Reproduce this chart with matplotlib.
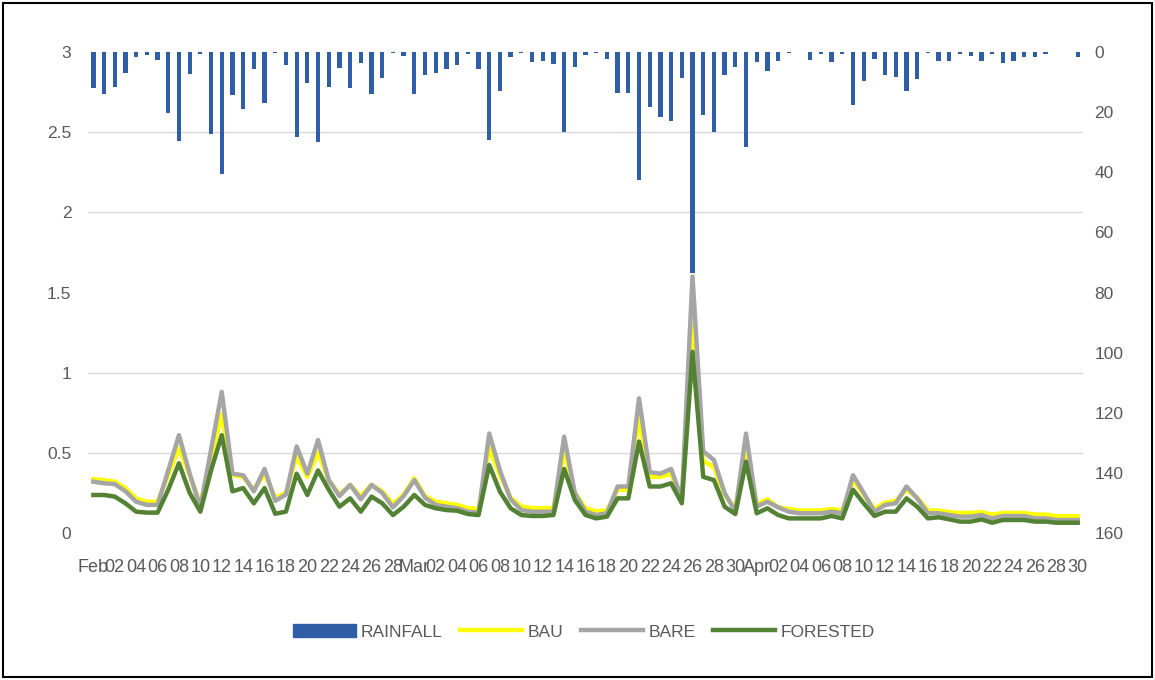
import numpy as np
import matplotlib.pyplot as plt
from matplotlib.patches import Rectangle, Patch
from matplotlib.lines import Line2D

# daily rainfall (mm), drawn downwards on the right axis
rainfall = [12.1, 14.1, 11.5, 6.9, 1.5, 1.0, 2.8, 20.2, 29.5, 7.4,
            0.8, 27.4, 40.7, 14.3, 18.8, 5.7, 16.9, 0.2, 4.3, 28.2,
            10.2, 30.0, 11.5, 5.4, 11.9, 3.8, 14.1, 8.8, 0.4, 1.3,
            14.1, 7.6, 6.9, 5.7, 4.3, 0.8, 5.7, 29.3, 13.0, 1.5,
            0.4, 3.4, 3.0, 4.1, 26.7, 4.9, 1.0, 0.2, 2.3, 13.7,
            13.7, 42.6, 18.2, 21.5, 22.9, 8.8, 73.5, 21.0, 26.7, 7.6,
            4.9, 31.5, 3.4, 6.2, 3.0, 0.4, 0.0, 2.7, 0.8, 3.4,
            0.8, 17.6, 9.6, 2.3, 7.6, 8.2, 13.0, 9.0, 0.2, 3.0,
            3.0, 0.8, 1.2, 3.0, 0.8, 3.8, 3.0, 1.5, 1.5, 0.8,
            0.0, 0.0, 1.5]

# runoff, left axis
bau = [0.335, 0.33, 0.32, 0.28, 0.215, 0.195, 0.195, 0.36, 0.53, 0.36,
       0.18, 0.47, 0.74, 0.36, 0.35, 0.27, 0.37, 0.22, 0.25, 0.48,
       0.35, 0.50, 0.33, 0.24, 0.30, 0.23, 0.30, 0.26, 0.18, 0.24,
       0.34, 0.23, 0.195, 0.185, 0.175, 0.155, 0.15, 0.53, 0.36, 0.22,
       0.165, 0.155, 0.155, 0.155, 0.51, 0.25, 0.155, 0.135, 0.14, 0.27,
       0.27, 0.71, 0.35, 0.35, 0.37, 0.21, 1.30, 0.45, 0.41, 0.24,
       0.15, 0.54, 0.18, 0.21, 0.16, 0.15, 0.14, 0.14, 0.14, 0.15,
       0.14, 0.33, 0.24, 0.15, 0.19, 0.20, 0.27, 0.22, 0.14, 0.14,
       0.13, 0.125, 0.125, 0.13, 0.115, 0.125, 0.125, 0.125, 0.115, 0.115,
       0.105, 0.105, 0.105]

bare = [0.32, 0.31, 0.305, 0.26, 0.195, 0.175, 0.175, 0.39, 0.61, 0.37,
        0.16, 0.52, 0.88, 0.37, 0.36, 0.26, 0.40, 0.20, 0.24, 0.54,
        0.37, 0.58, 0.33, 0.23, 0.30, 0.21, 0.30, 0.25, 0.16, 0.23,
        0.33, 0.22, 0.175, 0.164, 0.154, 0.133, 0.127, 0.62, 0.39, 0.21,
        0.143, 0.133, 0.133, 0.133, 0.60, 0.25, 0.133, 0.112, 0.123, 0.29,
        0.29, 0.84, 0.38, 0.37, 0.40, 0.21, 1.60, 0.51, 0.455, 0.25,
        0.133, 0.62, 0.164, 0.195, 0.16, 0.133, 0.123, 0.123, 0.123, 0.133,
        0.123, 0.36, 0.25, 0.133, 0.175, 0.185, 0.29, 0.216, 0.123, 0.123,
        0.112, 0.102, 0.102, 0.112, 0.091, 0.106, 0.106, 0.106, 0.091, 0.091,
        0.081, 0.081, 0.081]

forested = [0.237, 0.237, 0.227, 0.185, 0.133, 0.127, 0.127, 0.27, 0.435, 0.25,
            0.133, 0.39, 0.61, 0.26, 0.28, 0.185, 0.28, 0.12, 0.133, 0.37,
            0.237, 0.39, 0.27, 0.164, 0.216, 0.133, 0.227, 0.185, 0.112, 0.164,
            0.237, 0.175, 0.154, 0.143, 0.139, 0.118, 0.112, 0.424, 0.258, 0.154,
            0.112, 0.106, 0.106, 0.112, 0.40, 0.206, 0.112, 0.091, 0.102, 0.216,
            0.216, 0.57, 0.29, 0.29, 0.31, 0.185, 1.13, 0.35, 0.33, 0.164,
            0.118, 0.445, 0.123, 0.154, 0.112, 0.091, 0.091, 0.091, 0.091, 0.106,
            0.091, 0.27, 0.185, 0.106, 0.133, 0.133, 0.216, 0.164, 0.091, 0.098,
            0.085, 0.071, 0.071, 0.085, 0.064, 0.081, 0.081, 0.081, 0.071, 0.071,
            0.064, 0.064, 0.064]

# category labels, every second day
feb_labels = ["Feb", "02", "04", "06", "08", "10", "12", "14", "16", "18",
              "20", "22", "24", "26", "28"]
mar_labels = ["Mar", "02", "04", "06", "08", "10", "12", "14", "16", "18",
              "20", "22", "24", "26", "28", "30"]
apr_labels = ["Apr", "02", "04", "06", "08", "10", "12", "14", "16", "18",
              "20", "22", "24", "26", "28", "30"]
tick_labels = feb_labels + mar_labels + apr_labels

left_ticks = [0, 0.5, 1, 1.5, 2, 2.5, 3]
left_labels = ["0", "0.5", "1", "1.5", "2", "2.5", "3"]
right_ticks = [0, 20, 40, 60, 80, 100, 120, 140, 160]

plt.rcParams["font.family"] = ["Liberation Sans", "DejaVu Sans"]
text_color = "#595959"
c_rain = "#2F5DA6"
c_bau = "#FFFF00"
c_bare = "#A5A5A5"
c_forest = "#548235"

days = np.arange(len(rainfall))

fig = plt.figure(figsize=(11.55, 6.8), dpi=100)
ax = fig.add_axes([0.0762, 0.2162, 0.8615, 0.7073])
ax2 = ax.twinx()

# rainfall bars on the secondary (inverted) axis
ax2.bar(days, rainfall, width=0.4, color=c_rain, zorder=2)
ax2.set_ylim(160, 0)
ax2.set_yticks(right_ticks)
# gridlines follow the left axis ticks, drawn here so they stay behind the bars
ax2.set_yticks(np.linspace(0, 160, len(left_ticks)), minor=True)
ax2.yaxis.grid(True, which="minor", color="#D9D9D9", lw=1.0)
ax2.tick_params(axis="y", which="both", length=0, pad=8, labelsize=12.5, labelcolor=text_color)

# runoff lines on the primary axis, on top of the bars
ax.plot(days, bau, color=c_bau, lw=3.2, solid_joinstyle="round")
ax.plot(days, bare, color=c_bare, lw=3.2, solid_joinstyle="round")
ax.plot(days, forested, color=c_forest, lw=3.2, solid_joinstyle="round")
ax.set_zorder(ax2.get_zorder() + 1)
ax.patch.set_visible(False)

ax.set_ylim(0, 3)
ax.set_yticks(left_ticks)
ax.set_yticklabels(left_labels)
ax.set_xlim(-0.5, len(days) - 0.5)
ax.set_xticks(days[::2])
ax.set_xticklabels(tick_labels)
ax.tick_params(axis="y", length=0, pad=12, labelsize=12.5, labelcolor=text_color)
ax.tick_params(axis="x", length=0, pad=19, labelsize=13, labelcolor=text_color)

for a in (ax, ax2):
    for s in a.spines.values():
        s.set_visible(False)

handles = [Patch(color=c_rain),
           Line2D([], [], color=c_bau, lw=3.2),
           Line2D([], [], color=c_bare, lw=3.2),
           Line2D([], [], color=c_forest, lw=3.2)]
fig.legend(handles, ["RAINFALL", "BAU", "BARE", "FORESTED"], loc="center",
           bbox_to_anchor=(0.5056, 0.0706), ncol=4, frameon=False,
           handlelength=3.6, handletextpad=0.3, columnspacing=1.0,
           fontsize=12.5, labelcolor=text_color)

# black frame round the whole picture
fig.patches.append(Rectangle((0.003, 0.004), 0.994, 0.992, transform=fig.transFigure,
                             fill=False, ec="black", lw=1.5))

fig.savefig("out.png", dpi=100)
